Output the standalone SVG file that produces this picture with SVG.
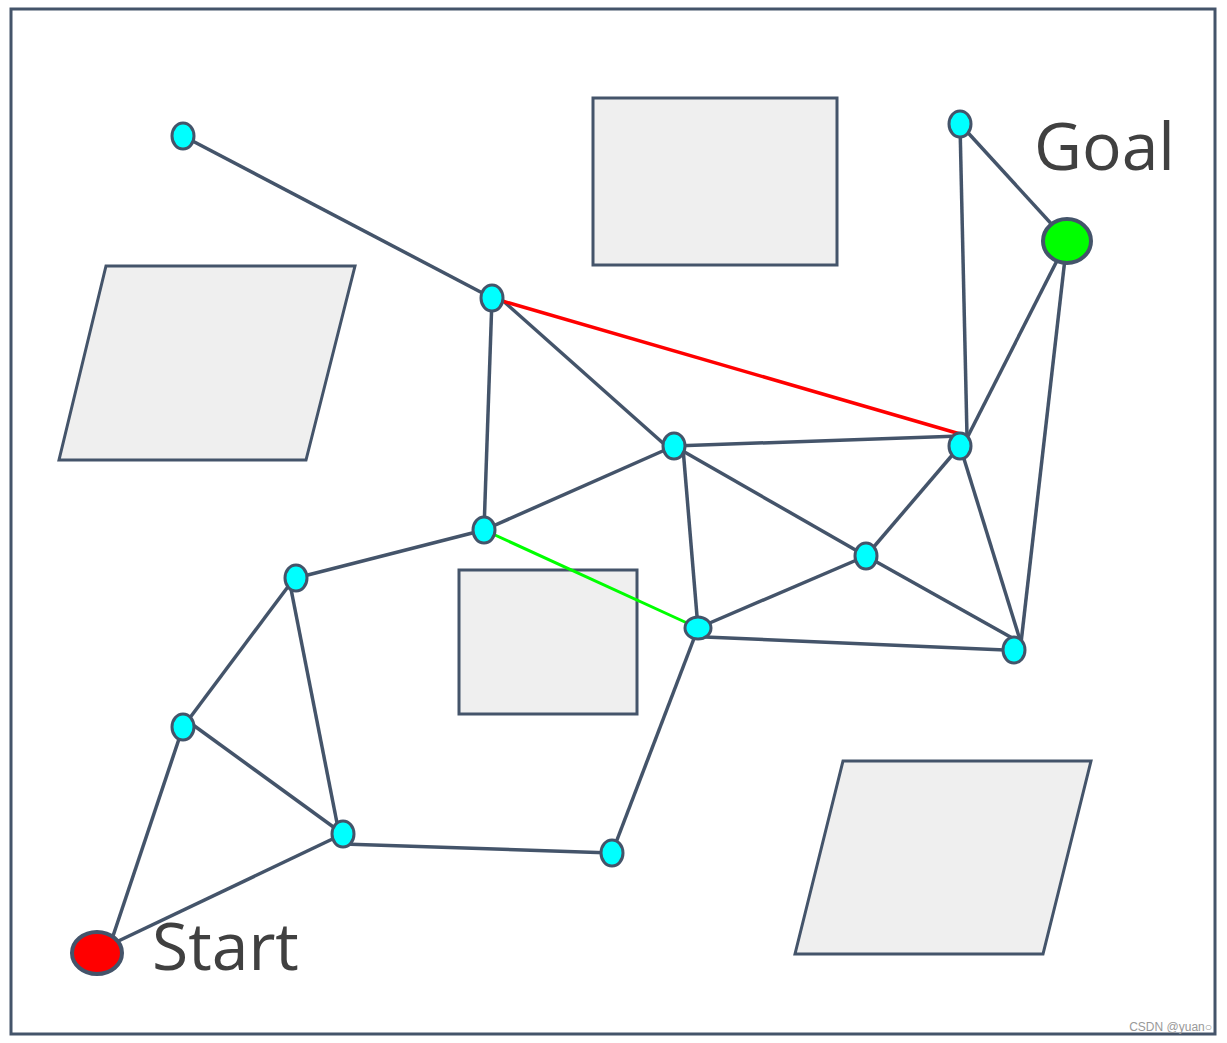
<svg xmlns="http://www.w3.org/2000/svg" width="1227" height="1043" viewBox="0 0 1227 1043">
<style>
.obs{fill:#EFEFEF;stroke:#44546A;stroke-width:3}
.e{stroke:#44546A;stroke-width:3.5;fill:none}
.n{fill:#00FFFF;stroke:#44546A;stroke-width:3}
.lbl{font-family:"Open Sans","Liberation Sans",sans-serif;fill:#404040}
</style>
<rect x="0" y="0" width="1227" height="1043" fill="#FFFFFF"/>
<rect x="11" y="9" width="1204" height="1025" fill="none" stroke="#44546A" stroke-width="3"/>
<g id="obstacles">
<rect class="obs" x="593" y="98" width="244" height="167"/>
<polygon class="obs" points="106,266 355,266 306,460 59,460"/>
<rect class="obs" x="459" y="570" width="178" height="144"/>
<polygon class="obs" points="843,761 1091,761 1043,954 795,954"/>
</g>
<g id="connectors">
<line class="e" x1="183" y1="136" x2="492" y2="298"/>
<line class="e" x1="492" y1="298" x2="484" y2="530"/>
<line class="e" x1="501" y1="299" x2="664" y2="444"/>
<line class="e" x1="674" y1="446" x2="960" y2="436"/>
<line class="e" x1="674" y1="446" x2="484" y2="530"/>
<line class="e" x1="683" y1="448" x2="698" y2="628"/>
<line class="e" x1="674" y1="446" x2="866" y2="556"/>
<line class="e" x1="960" y1="124" x2="967" y2="436"/>
<line class="e" x1="960" y1="124" x2="1067" y2="241"/>
<line class="e" x1="1067" y1="241" x2="966" y2="440"/>
<line class="e" x1="1067" y1="241" x2="1021" y2="643"/>
<line class="e" x1="960" y1="446" x2="866" y2="556"/>
<line class="e" x1="960" y1="446" x2="1021" y2="643"/>
<line class="e" x1="866" y1="556" x2="698" y2="628"/>
<line class="e" x1="866" y1="556" x2="1021" y2="643"/>
<line class="e" x1="705" y1="637" x2="1005" y2="650"/>
<line class="e" x1="698" y1="628" x2="612" y2="853"/>
<line class="e" x1="484" y1="530" x2="296" y2="578"/>
<line class="e" x1="290" y1="584" x2="183" y2="727"/>
<line class="e" x1="290" y1="584" x2="338" y2="828"/>
<line class="e" x1="189" y1="722" x2="343" y2="834"/>
<line class="e" x1="183" y1="727" x2="110" y2="945"/>
<line class="e" x1="343" y1="834" x2="110" y2="945"/>
<line class="e" x1="343" y1="844" x2="612" y2="853"/>
<line x1="492" y1="298" x2="967" y2="436" stroke="#FF0000" stroke-width="3.5"/>
<line x1="484" y1="530" x2="698" y2="628" stroke="#00FF00" stroke-width="3"/>
</g>
<g id="n1"><ellipse class="n" cx="183" cy="136" rx="11" ry="13"/></g>
<g id="n2"><ellipse class="n" cx="492" cy="298" rx="11" ry="13"/></g>
<g id="n3"><ellipse class="n" cx="674" cy="446" rx="11" ry="13"/></g>
<g id="n4"><ellipse class="n" cx="960" cy="124" rx="11" ry="13"/></g>
<g id="n5"><ellipse class="n" cx="960" cy="446" rx="11" ry="13"/></g>
<g id="n6"><ellipse class="n" cx="484" cy="530" rx="11" ry="13"/></g>
<g id="n7"><ellipse class="n" cx="866" cy="556" rx="11" ry="13"/></g>
<g id="n8"><ellipse class="n" cx="698" cy="628" rx="13" ry="11"/></g>
<g id="n9"><ellipse class="n" cx="1014" cy="650" rx="11" ry="13"/></g>
<g id="n10"><ellipse class="n" cx="296" cy="578" rx="11" ry="13"/></g>
<g id="n11"><ellipse class="n" cx="183" cy="727" rx="11" ry="13"/></g>
<g id="n12"><ellipse class="n" cx="343" cy="834" rx="11" ry="13"/></g>
<g id="n13"><ellipse class="n" cx="612" cy="853" rx="11" ry="13"/></g>
<g id="goal"><ellipse cx="1067" cy="241" rx="24" ry="22" fill="#00FF00" stroke="#44546A" stroke-width="4"/>
<text class="lbl" x="1034" y="170" font-size="66">Goal</text></g>
<g id="start"><ellipse cx="97" cy="953" rx="25" ry="21" fill="#FF0000" stroke="#44546A" stroke-width="4"/>
<text class="lbl" x="152" y="970" font-size="66">Start</text></g>
<text x="1212" y="1031" text-anchor="end" font-family="Liberation Sans,sans-serif" font-size="12" fill="#999999">CSDN @yuan○</text>
</svg>
